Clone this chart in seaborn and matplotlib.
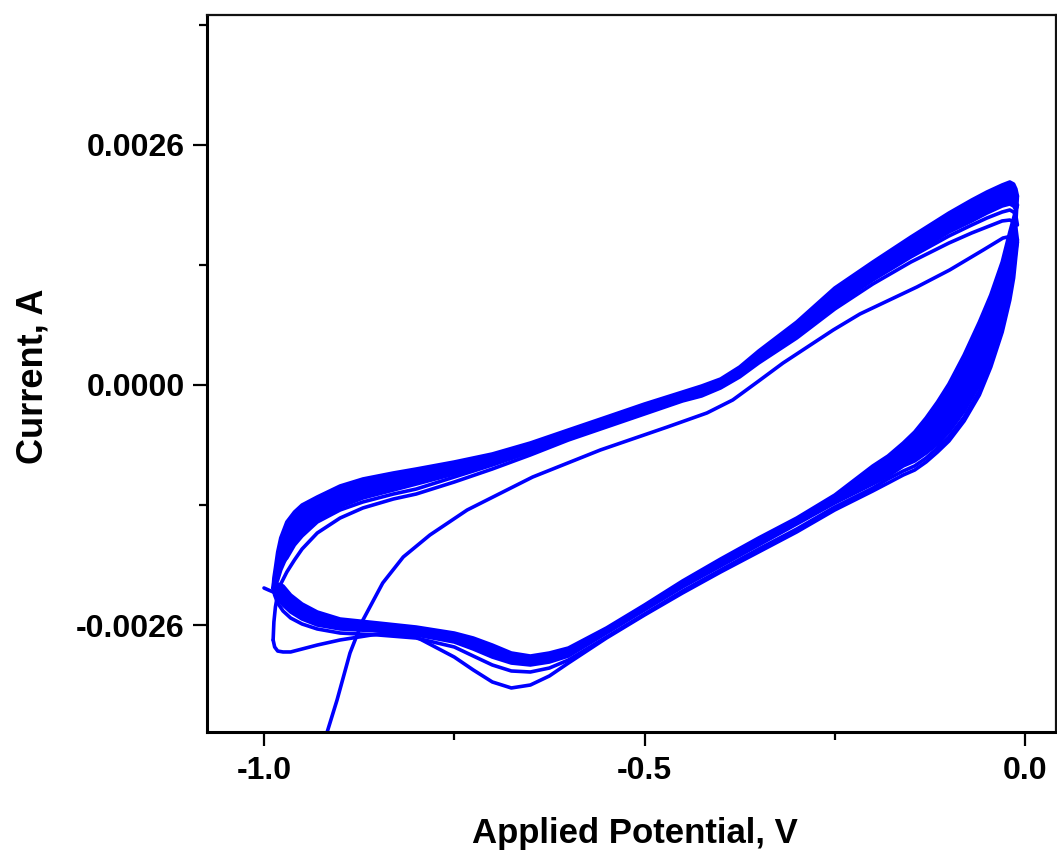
import numpy as np
import pandas as pd
import seaborn as sns
import matplotlib.pyplot as plt

# potential grids (V) shared by the repeated sweeps
E_rev = [-0.010, -0.012, -0.015, -0.02, -0.03, -0.045, -0.06, -0.08, -0.10,
         -0.115, -0.13, -0.145, -0.16, -0.18, -0.20,
         -0.25, -0.30, -0.35, -0.40, -0.45, -0.50, -0.55, -0.60,
         -0.625, -0.65, -0.675, -0.70, -0.725, -0.75, -0.80, -0.85, -0.90, -0.93,
         -0.95, -0.965, -0.975, -0.982, -0.986, -0.988]
E_fwd = [-0.988, -0.987, -0.985, -0.982, -0.978, -0.97, -0.96, -0.95, -0.93, -0.90,
         -0.87, -0.83, -0.80, -0.75, -0.70, -0.65, -0.60, -0.55, -0.50, -0.45,
         -0.425, -0.40, -0.375, -0.35, -0.30, -0.25, -0.20, -0.15, -0.10, -0.07,
         -0.05, -0.03, -0.02, -0.015, -0.012, -0.010]

# first anodic sweep, starts below the plotted range (mA)
E_init = [-0.925, -0.917, -0.904, -0.887, -0.870, -0.844, -0.817, -0.782, -0.733, -0.647,
          -0.558, -0.470, -0.418, -0.384, -0.350, -0.318, -0.252, -0.217, -0.142, -0.099,
          -0.055, -0.029, -0.017, -0.010]
I_init = [-4.000, -3.759, -3.412, -2.903, -2.546, -2.145, -1.863, -1.625, -1.354, -0.997,
          -0.704, -0.455, -0.303, -0.162, 0.043, 0.238, 0.596, 0.769, 1.062, 1.246,
          1.462, 1.592, 1.614, 1.549]

# early cycles (mA)
I_rev1 = [1.549, 1.397, 1.159, 0.921, 0.574, 0.195, -0.108, -0.390, -0.607,
          -0.726, -0.834, -0.921, -0.975, -1.062, -1.148,
          -1.354, -1.592, -1.809, -2.026, -2.253, -2.492, -2.741, -3.012,
          -3.152, -3.250, -3.282, -3.217, -3.087, -2.947, -2.730, -2.697, -2.762, -2.817,
          -2.860, -2.892, -2.892, -2.882, -2.838, -2.762]
I_fwd2 = [-2.762, -2.567, -2.405, -2.264, -2.156, -2.026, -1.896, -1.777, -1.603, -1.441,
          -1.332, -1.235, -1.181, -1.051, -0.910, -0.758, -0.596, -0.455, -0.314, -0.173,
          -0.119, -0.032, 0.087, 0.238, 0.509, 0.823, 1.094, 1.332, 1.538, 1.647,
          1.712, 1.777, 1.787, 1.766, 1.701, 1.571]
I_rev2 = [1.571, 1.462, 1.246, 0.986, 0.617, 0.238, -0.065, -0.347, -0.563,
          -0.682, -0.791, -0.877, -0.932, -1.018, -1.116,
          -1.322, -1.560, -1.777, -2.004, -2.232, -2.481, -2.730, -2.979,
          -3.066, -3.109, -3.098, -3.033, -2.936, -2.838, -2.741, -2.708, -2.687, -2.643,
          -2.589, -2.524, -2.448, -2.362, -2.275, -2.199]
I_fwd3 = [-2.199, -2.134, -2.069, -2.004, -1.950, -1.874, -1.733, -1.636, -1.484, -1.354,
          -1.267, -1.181, -1.127, -0.997, -0.867, -0.726, -0.574, -0.433, -0.303, -0.162,
          -0.108, -0.022, 0.108, 0.260, 0.531, 0.856, 1.137, 1.387, 1.614, 1.733,
          1.809, 1.874, 1.896, 1.874, 1.831, 1.733]

# the bundle of later, nearly overlapping cycles: outer and inner envelope (mA)
I_band_out_fwd = [-2.199, -2.091, -1.982, -1.809, -1.657, -1.484, -1.376, -1.300, -1.213, -1.094,
                  -1.018, -0.953, -0.910, -0.834, -0.747, -0.628, -0.487, -0.347, -0.206, -0.076,
                  -0.011, 0.065, 0.195, 0.368, 0.682, 1.051, 1.332, 1.603, 1.863, 2.004,
                  2.091, 2.167, 2.199, 2.177, 2.123, 2.047]
I_band_in_fwd = [-2.199, -2.188, -2.167, -2.112, -2.004, -1.852, -1.701, -1.592, -1.451, -1.321,
                 -1.224, -1.138, -1.073, -0.964, -0.845, -0.704, -0.552, -0.412, -0.282, -0.141,
                 -0.087, 0.011, 0.141, 0.282, 0.563, 0.867, 1.159, 1.408, 1.657, 1.777,
                 1.863, 1.939, 1.961, 1.939, 1.896, 1.950]
I_band_out_rev = [2.047, 1.766, 1.408, 1.105, 0.704, 0.314, 0.000, -0.282, -0.509,
                  -0.639, -0.737, -0.823, -0.877, -0.986, -1.072,
                  -1.278, -1.506, -1.733, -1.961, -2.188, -2.437, -2.687, -2.936,
                  -3.001, -3.033, -3.012, -2.947, -2.860, -2.784, -2.708, -2.665, -2.643, -2.600,
                  -2.535, -2.459, -2.383, -2.307, -2.242, -2.199]
I_band_in_rev = [1.950, 1.896, 1.809, 1.657, 1.332, 0.975, 0.682, 0.325, 0.011,
                 -0.184, -0.357, -0.509, -0.628, -0.769, -0.877,
                 -1.192, -1.441, -1.657, -1.885, -2.123, -2.383, -2.632, -2.849,
                 -2.903, -2.936, -2.903, -2.817, -2.741, -2.687, -2.622, -2.578, -2.535, -2.459,
                 -2.372, -2.275, -2.177, -2.156, -2.177, -2.199]

# last cathodic sweep runs out to -1.0 V
E_tail = [-0.975, -0.982, -0.988, -0.994, -1.000]
I_tail = [-2.329, -2.275, -2.242, -2.221, -2.199]

x_ticks = [-1.0, -0.5, 0.0]
y_ticks = [-0.0026, 0.0, 0.0026]

sns.set_style('ticks')
plt.rcParams['font.family'] = ['Liberation Sans', 'DejaVu Sans']
plt.rcParams['font.weight'] = 'bold'
plt.rcParams['text.color'] = 'black'
plt.rcParams['axes.labelcolor'] = 'black'
plt.rcParams['xtick.color'] = 'black'
plt.rcParams['ytick.color'] = 'black'

sweeps = [
    ('init', E_init, I_init),
    ('rev1', E_rev, I_rev1),
    ('fwd2', E_fwd, I_fwd2),
    ('rev2', E_rev, I_rev2),
    ('fwd3', E_fwd, I_fwd3),
    ('band_out_fwd', E_fwd, I_band_out_fwd),
    ('band_in_fwd', E_fwd, I_band_in_fwd),
    ('band_out_rev', E_rev, I_band_out_rev),
    ('band_in_rev', E_rev, I_band_in_rev),
    ('tail', E_tail, I_tail),
]
df = pd.concat([pd.DataFrame({'E': e, 'I': np.array(i) * 1e-3, 'sweep': name})
                for name, e, i in sweeps], ignore_index=True)

fig = plt.figure(figsize=(10.57, 8.65), dpi=100)
ax = fig.add_axes([207 / 1057, 133 / 865, 849 / 1057, 717 / 865])

blue = '#0000ff'
# solid band between the envelopes of the overlapping cycles
ax.fill(np.r_[E_fwd, E_fwd[::-1]], np.r_[I_band_out_fwd, I_band_in_fwd[::-1]] * 1e-3,
        color=blue, lw=0, zorder=1)
ax.fill(np.r_[E_rev, E_rev[::-1]], np.r_[I_band_out_rev, I_band_in_rev[::-1]] * 1e-3,
        color=blue, lw=0, zorder=1)

sns.lineplot(data=df, x='E', y='I', units='sweep', estimator=None, sort=False,
             color=blue, linewidth=2.6, ax=ax, legend=False, zorder=2)

ax.set_xlim(-1.0749, 0.0407)
ax.set_ylim(-0.003759, 0.004008)

ax.set_xticks(x_ticks)
ax.set_xticklabels(['%.1f' % v for v in x_ticks])
ax.set_xticks([-0.75, -0.25], minor=True)
ax.set_yticks(y_ticks)
ax.set_yticklabels(['%.4f' % v for v in y_ticks])
ax.set_yticks([-0.0013, 0.0013, 0.0039], minor=True)

ax.tick_params(axis='both', which='major', direction='out', length=10, width=1.6,
               labelsize=23, color='black', labelcolor='black')
ax.tick_params(axis='both', which='minor', direction='out', length=6, width=1.6,
               color='black')
ax.tick_params(axis='x', which='major', pad=7)
ax.tick_params(axis='y', which='major', pad=6)
for lab in ax.get_xticklabels() + ax.get_yticklabels():
    lab.set_fontweight('bold')

for side in ['left', 'bottom']:
    ax.spines[side].set_linewidth(2.2)
    ax.spines[side].set_color('black')
for side in ['top', 'right']:
    ax.spines[side].set_visible(True)
    ax.spines[side].set_linewidth(1.6)
    ax.spines[side].set_color('#111111')

ax.set_xlabel('Applied Potential, V', fontsize=25, fontweight='bold', color='black')
ax.set_ylabel('Current, A', fontsize=26, fontweight='bold', color='black')
ax.xaxis.set_label_coords(0.504, -0.1185)
ax.yaxis.set_label_coords(-0.184, 0.4965)

fig.savefig('out.png', dpi=100)
